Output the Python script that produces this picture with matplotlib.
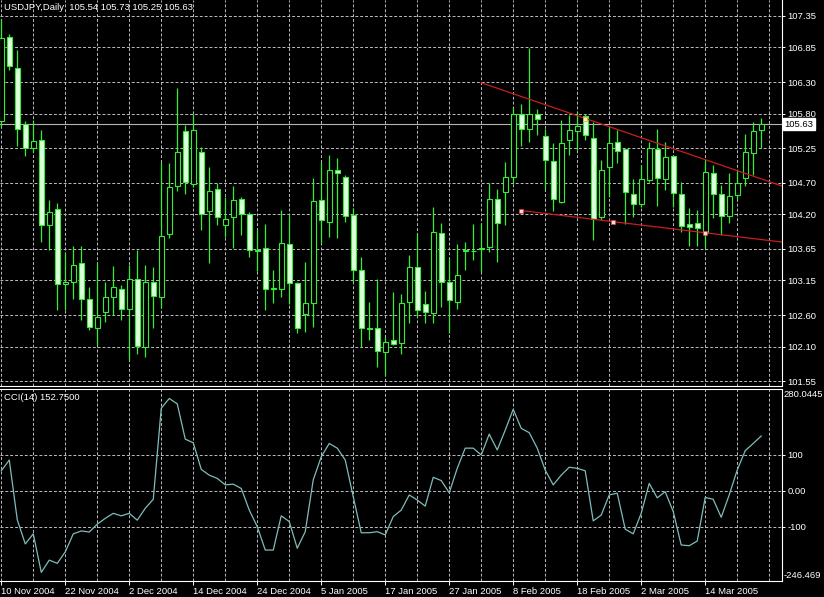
import numpy as np
import matplotlib.pyplot as plt
from matplotlib import transforms

plt.rcParams['font.family'] = ['Liberation Sans', 'DejaVu Sans']
plt.rcParams['font.size'] = 6.8

# daily bars, USDJPY, 10 Nov 2004 .. 18 Mar 2005
opens = [105.69, 107.01, 106.52, 105.64, 105.25, 105.38, 104.03, 104.28, 103.10, 103.12,
         103.43, 102.86, 102.40, 102.65, 102.88, 103.02, 102.69, 103.17, 102.09, 103.13,
         102.88, 103.88, 104.65, 105.53, 104.68, 105.19, 104.26, 104.60, 104.03, 104.16,
         104.44, 104.21, 103.62, 103.67, 103.01, 103.02, 103.73, 103.11, 102.62, 102.80,
         104.42, 104.08, 104.90, 104.79, 104.19, 103.32, 102.39, 102.39, 102.01, 102.20,
         102.16, 102.81, 103.37, 102.78, 102.64, 103.90, 103.13, 102.81, 103.62, 103.62,
         103.65, 103.68, 104.45, 104.56, 104.79, 105.79, 105.55, 105.80, 105.44, 105.05,
         104.40, 105.38, 105.52, 105.76, 105.42, 104.16, 104.95, 105.35, 105.23, 104.53,
         104.37, 104.74, 105.23, 104.76, 105.13, 104.52, 104.05, 104.07, 103.90, 104.85,
         104.53, 104.17, 104.50, 104.77, 105.18, 105.54]
highs = [107.31, 107.06, 106.81, 105.69, 105.70, 105.54, 104.42, 104.38, 103.58, 103.69,
         103.69, 103.05, 103.43, 103.13, 103.38, 103.08, 103.40, 103.63, 103.40, 103.37,
         105.03, 105.02, 106.20, 105.62, 105.80, 105.27, 104.95, 104.70, 104.48, 104.65,
         104.48, 104.24, 103.95, 104.05, 103.32, 104.27, 104.19, 103.13, 103.45, 104.77,
         105.03, 105.14, 105.10, 104.82, 104.30, 103.52, 102.81, 103.17, 102.26, 102.97,
         102.94, 103.55, 103.90, 102.98, 104.32, 104.07, 103.50, 103.73, 103.76, 104.05,
         104.06, 104.69, 104.60, 105.03, 105.91, 105.95, 106.84, 105.88, 105.56, 105.34,
         105.70, 105.78, 105.83, 105.79, 105.67, 105.07, 105.59, 105.54, 105.23, 104.76,
         104.98, 105.35, 105.56, 105.35, 105.14, 104.72, 104.30, 104.27, 105.06, 104.98,
         104.67, 104.85, 104.90, 105.48, 105.67, 105.73]
lows = [105.59, 106.50, 105.28, 105.12, 105.19, 103.76, 103.63, 102.68, 102.68, 102.85,
        102.53, 102.36, 102.12, 102.49, 102.60, 102.53, 101.88, 101.99, 101.94, 102.39,
        102.72, 103.83, 104.57, 104.53, 104.64, 103.95, 103.42, 104.03, 103.84, 103.67,
        103.87, 103.52, 103.30, 102.68, 102.79, 102.89, 102.78, 102.31, 102.33, 102.41,
        103.74, 103.84, 103.82, 104.08, 103.13, 102.10, 102.20, 101.78, 101.65, 102.12,
        101.99, 102.47, 102.57, 102.48, 102.47, 102.73, 102.31, 102.69, 103.31, 103.47,
        103.29, 103.60, 103.45, 104.03, 104.70, 105.28, 105.35, 105.46, 104.61, 104.26,
        104.38, 105.14, 105.22, 105.38, 103.80, 104.11, 104.48, 105.01, 104.05, 104.16,
        104.32, 104.72, 104.33, 104.59, 104.32, 103.92, 103.69, 103.69, 103.66, 104.14,
        103.87, 104.06, 104.45, 104.65, 104.82, 105.25]
closes = [107.00, 106.55, 105.56, 105.26, 105.37, 104.03, 104.24, 103.09, 103.13, 103.40,
          102.85, 102.41, 102.57, 102.88, 103.04, 102.69, 103.18, 102.11, 103.13, 102.90,
          103.85, 104.63, 105.19, 104.72, 105.54, 104.21, 104.57, 104.16, 104.13, 104.42,
          104.20, 103.63, 103.63, 103.02, 103.03, 103.74, 103.11, 102.39, 102.79, 104.41,
          104.11, 104.90, 104.85, 104.17, 103.32, 102.40, 102.38, 102.03, 102.18, 102.14,
          102.80, 103.37, 102.68, 102.65, 103.92, 103.13, 102.84, 103.24, 103.63, 103.62,
          103.66, 104.44, 104.07, 104.79, 105.79, 105.55, 105.79, 105.71, 105.06, 104.44,
          105.34, 105.54, 105.60, 105.46, 104.13, 104.91, 105.34, 105.20, 104.56, 104.36,
          104.76, 105.25, 104.77, 105.11, 104.54, 104.01, 104.00, 103.99, 104.87, 104.53,
          104.18, 104.49, 104.70, 105.19, 105.52, 105.63]

cci = [56, 86, -80, -147, -119, -226, -192, -201, -169, -119,
       -111, -114, -92, -76, -62, -69, -62, -81, -48, -23,
       230, 257, 242, 144, 134, 60, 44, 35, 17, 19,
       7, -53, -99, -164, -164, -69, -85, -159, -113, 31,
       95, 132, 119, 86, -16, -116, -116, -113, -122, -71,
       -53, -11, -25, -42, 38, 29, -5, 63, 119, 119,
       100, 158, 114, 169, 227, 174, 162, 119, 58, 17,
       44, 66, 63, 56, -83, -67, -11, -6, -106, -119,
       -62, 21, -19, -2, -57, -150, -152, -139, -18, -23,
       -73, -11, 58, 112, 132, 152.75]

date_labels = ['10 Nov 2004', '22 Nov 2004', '2 Dec 2004', '14 Dec 2004', '24 Dec 2004',
               '5 Jan 2005', '17 Jan 2005', '27 Jan 2005', '8 Feb 2005', '18 Feb 2005',
               '2 Mar 2005', '14 Mar 2005']
price_ticks = [107.35, 106.85, 106.30, 105.80, 105.25, 104.70, 104.20, 103.65,
               103.15, 102.60, 102.10, 101.55]
cci_ticks = [100, 0, -100]
cci_tick_labels = ['100', '0.00', '-100']
cci_max, cci_min = 280.0445, -246.469

# trend lines and their marked points
upper_x, upper_y = [60.0, 97.6], [106.29, 104.65]
lower_x, lower_y = [65.0, 97.6], [104.26, 103.76]
lower_pts_x, lower_pts_y = [65.0, 76.5, 88.0], [104.26, 104.08, 103.91]
upper_pts_x, upper_pts_y = [73.0], [105.72]

################################################################################

fg = '#33ee33'
grid_kw = dict(color='#bcbcbc', lw=0.7, linestyle=(0, (3, 2)), zorder=1)

fig = plt.figure(figsize=(8.24, 5.97), dpi=100, facecolor='black')
W, H = 824.0, 597.0
ax1 = fig.add_axes([0, 1 - 386 / H, 782 / W, 386 / H], facecolor='black')
ax2 = fig.add_axes([0, 1 - 581 / H, 782 / W, 192 / H], facecolor='black')

x = np.arange(len(opens))
o = np.array(opens)
c = np.array(closes)
bull = c >= o

for ax in (ax1, ax2):
    ax.set_xlim(-0.16, 97.6)
    for xv in range(0, 97, 4):
        ax.axvline(xv, **grid_kw)
    for s in ax.spines.values():
        s.set_color('white')
        s.set_linewidth(0.8)
    ax.spines['left'].set_visible(False)
    ax.yaxis.tick_right()
    ax.tick_params(axis='y', colors='white', length=2.5, width=0.7, pad=1.5, labelsize=6.8)
ax1.spines['top'].set_visible(False)

# price panel
ax1.set_ylim(101.474, 107.604)
ax1.set_yticks(price_ticks, [f'{v:.2f}' for v in price_ticks])
for v in price_ticks:
    ax1.axhline(v, **grid_kw)
ax1.set_xticks([])

ax1.vlines(x, lows, highs, color=fg, lw=0.9, zorder=3)
heights = np.maximum(np.abs(c - o), 0.004)
ax1.bar(x, heights, bottom=np.minimum(o, c), width=0.6,
        color=np.where(bull, 'black', '#dcffdc'), edgecolor=fg, linewidth=0.8, zorder=4)

ax1.axhline(closes[-1], color='#b4b4b4', lw=0.8, zorder=2)

ax1.plot(upper_x, upper_y, color='#c81e1e', lw=0.9, zorder=5)
ax1.plot(lower_x, lower_y, color='#c81e1e', lw=0.9, zorder=5)
ax1.plot(lower_pts_x, lower_pts_y, 's', ms=3, mfc='#ffd8d8', mec='#e04040', mew=0.5, zorder=6)
ax1.plot(upper_pts_x, upper_pts_y, 's', ms=3, mfc='#fff2c0', mec='#e0a040', mew=0.5, zorder=6)

tr = transforms.blended_transform_factory(ax1.transAxes, ax1.transData)
ax1.text(1.003, closes[-1], f'{closes[-1]:.2f}', transform=tr, ha='left', va='center',
         color='black', fontsize=6.8, zorder=10,
         bbox=dict(boxstyle='square,pad=0.15', fc='white', ec='white'))

ax1.text(0.005, 1 - 8 / 386, 'USDJPY,Daily  %.2f %.2f %.2f %.2f' % (opens[-1], highs[-1], lows[-1], closes[-1]),
         transform=ax1.transAxes, color='white', ha='left', va='center', fontsize=6.8)

# CCI panel
ax2.set_ylim(-250, 283.3)
ax2.set_yticks(cci_ticks, cci_tick_labels)
for v in cci_ticks:
    ax2.axhline(v, **grid_kw)
ax2.plot(x, cci, color='#7fbcbc', lw=0.9, zorder=3)
tr2 = transforms.blended_transform_factory(ax2.transAxes, ax2.transData)
ax2.text(1.002, cci_max, f'{cci_max:.4f}', transform=tr2, ha='left', va='top',
         color='white', fontsize=6.8, clip_on=False)
ax2.text(1.002, cci_min, f'{cci_min:.3f}', transform=tr2, ha='left', va='bottom',
         color='white', fontsize=6.8, clip_on=False)
ax2.text(0.005, 1 - 9 / 192, 'CCI(14) %.4f' % cci[-1], transform=ax2.transAxes,
         color='white', ha='left', va='center', fontsize=6.8)

ax2.set_xticks(np.arange(0, 8 * len(date_labels), 8), date_labels)
ax2.tick_params(axis='x', colors='white', length=3, width=0.7, pad=1, labelsize=6.8)
for lab in ax2.get_xticklabels():
    lab.set_ha('left')

fig.savefig('out.png', dpi=100, facecolor='black')
